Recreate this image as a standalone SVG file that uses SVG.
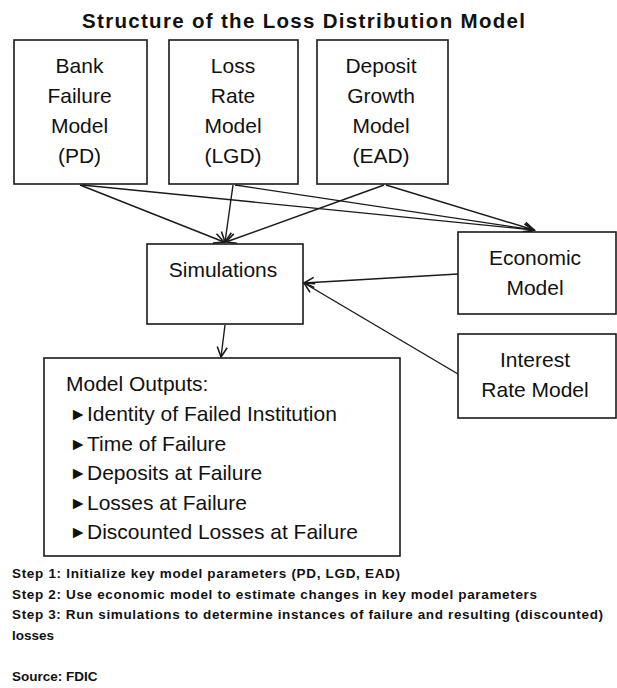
<svg xmlns="http://www.w3.org/2000/svg" width="617" height="688" viewBox="0 0 617 688">
<defs>
<style>
.bg{fill:#ffffff}
.box{fill:#ffffff;stroke:#1a1a1a;stroke-width:1.6}
.lbl{font-family:"Liberation Sans",Arial,sans-serif;font-size:21px;fill:#111111;text-anchor:middle}
.out{font-family:"Liberation Sans",Arial,sans-serif;font-size:21px;fill:#111111}
.bul{font-family:"Liberation Sans",Arial,sans-serif;font-size:17.5px;fill:#111111}
.title{font-family:"Liberation Sans",Arial,sans-serif;font-size:20.5px;font-weight:bold;fill:#111111}
.note{font-family:"Liberation Sans",Arial,sans-serif;font-size:13.5px;font-weight:bold;fill:#111111}
.conn{stroke:#1a1a1a;stroke-width:1.4;fill:none;marker-end:url(#arr)}
</style>
<marker id="arr" markerUnits="userSpaceOnUse" markerWidth="14" markerHeight="14" viewBox="-12 -7 14 14" refX="0" refY="0" orient="auto">
<path d="M-10,-5 L0,0 L-10,5" fill="none" stroke="#1a1a1a" stroke-width="1.6"/>
</marker>
</defs>
<rect class="bg" x="0" y="0" width="617" height="688"/>
<text class="title" x="82" y="28" textLength="443" lengthAdjust="spacing">Structure of the Loss Distribution Model</text>

<g id="connectors">
<line class="conn" x1="80" y1="185" x2="224" y2="242"/>
<line class="conn" x1="82" y1="185" x2="534" y2="230"/>
<line class="conn" x1="233" y1="185" x2="225" y2="242"/>
<line class="conn" x1="235" y1="185" x2="534" y2="230"/>
<line class="conn" x1="384" y1="185" x2="226" y2="242"/>
<line class="conn" x1="386" y1="185" x2="534" y2="230"/>
<line class="conn" x1="458" y1="274" x2="304" y2="283"/>
<line class="conn" x1="458" y1="374" x2="304" y2="283"/>
<line class="conn" x1="225" y1="325" x2="221" y2="357"/>
</g>

<g id="bank-failure-model">
<rect class="box" x="14" y="40" width="133" height="144"/>
<text class="lbl" x="79.5" y="73">Bank</text>
<text class="lbl" x="79.5" y="103">Failure</text>
<text class="lbl" x="79.5" y="133">Model</text>
<text class="lbl" x="79.5" y="163">(PD)</text>
</g>

<g id="loss-rate-model">
<rect class="box" x="169" y="40" width="129" height="144"/>
<text class="lbl" x="233" y="73">Loss</text>
<text class="lbl" x="233" y="103">Rate</text>
<text class="lbl" x="233" y="133">Model</text>
<text class="lbl" x="233" y="163">(LGD)</text>
</g>

<g id="deposit-growth-model">
<rect class="box" x="317" y="40" width="131" height="144"/>
<text class="lbl" x="381" y="73">Deposit</text>
<text class="lbl" x="381" y="103">Growth</text>
<text class="lbl" x="381" y="133">Model</text>
<text class="lbl" x="381" y="163">(EAD)</text>
</g>

<g id="simulations">
<rect class="box" x="147" y="244" width="156" height="80"/>
<text class="lbl" x="223" y="277">Simulations</text>
</g>

<g id="economic-model">
<rect class="box" x="458" y="232" width="158" height="82"/>
<text class="lbl" x="535" y="265">Economic</text>
<text class="lbl" x="535" y="295">Model</text>
</g>

<g id="interest-rate-model">
<rect class="box" x="458" y="334" width="158" height="84"/>
<text class="lbl" x="535" y="367">Interest</text>
<text class="lbl" x="535" y="397">Rate Model</text>
</g>

<g id="model-outputs">
<rect class="box" x="44" y="358" width="356" height="198"/>
<text class="out" x="66" y="391">Model Outputs:</text>
<text class="bul" x="69.5" y="420">►</text><text class="out" x="87" y="421">Identity of Failed Institution</text>
<text class="bul" x="69.5" y="449.5">►</text><text class="out" x="87" y="450.5">Time of Failure</text>
<text class="bul" x="69.5" y="479">►</text><text class="out" x="87" y="480">Deposits at Failure</text>
<text class="bul" x="69.5" y="508.5">►</text><text class="out" x="87" y="509.5">Losses at Failure</text>
<text class="bul" x="69.5" y="538">►</text><text class="out" x="87" y="539">Discounted Losses at Failure</text>
</g>

<g id="notes">
<text class="note" x="12" y="578" textLength="388" lengthAdjust="spacing">Step 1: Initialize key model parameters (PD, LGD, EAD)</text>
<text class="note" x="12" y="598.5" textLength="525" lengthAdjust="spacing">Step 2: Use economic model to estimate changes in key model parameters</text>
<text class="note" x="12" y="619" textLength="591" lengthAdjust="spacing">Step 3: Run simulations to determine instances of failure and resulting (discounted)</text>
<text class="note" x="12" y="639.5">losses</text>
<text class="note" x="12" y="681">Source: FDIC</text>
</g>
</svg>
